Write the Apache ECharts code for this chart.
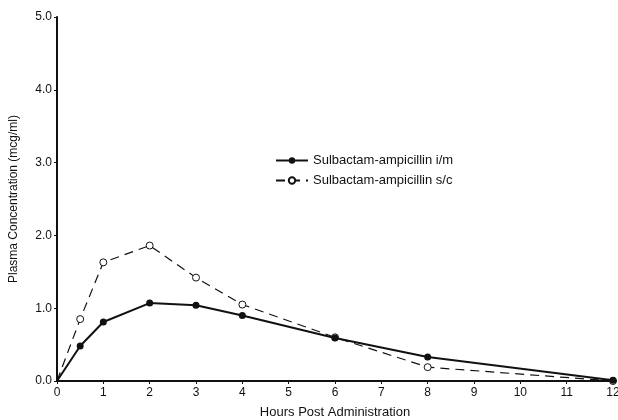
<!DOCTYPE html>
<html>
<head>
<meta charset="utf-8">
<script src="https://cdn.jsdelivr.net/npm/echarts@6/dist/echarts.min.js"></script>
<style>
  html, body { margin: 0; padding: 0; background: #fff; }
  #chart { width: 618px; height: 420px; }
</style>
</head>
<body>
<div id="chart"></div>
<script>
// Plasma concentration after sulbactam-ampicillin, two routes
const hours = [0, 0.5, 1, 2, 3, 4, 6, 8, 12];
const imConc = [0, 0.48, 0.81, 1.07, 1.04, 0.90, 0.59, 0.33, 0.01];
const scConc = [0, 0.85, 1.63, 1.86, 1.42, 1.05, 0.60, 0.19, 0];
const seriesNames = ["Sulbactam-ampicillin i/m", "Sulbactam-ampicillin s/c"];

const FONT = '"Liberation Sans", Arial, sans-serif';
const INK = "#111";

// no marker drawn at the origin in the original figure
const pairs = (xs, ys) =>
  xs.map((x, i) => (x === 0 ? { value: [x, ys[i]], symbol: "none" } : [x, ys[i]]));

const chart = echarts.init(document.getElementById("chart"), null, { renderer: "canvas" });

chart.setOption({
  backgroundColor: "#fff",
  animation: false,
  grid: { left: 57, right: 5, top: 17, bottom: 39, outerBoundsMode: "none" },
  legend: {
    left: 270,
    top: 149,
    orient: "vertical",
    itemGap: 7,
    itemWidth: 32,
    itemHeight: 8,
    textStyle: { color: INK, fontFamily: FONT, fontSize: 13 },
    data: seriesNames,
  },
  xAxis: {
    type: "value",
    min: 0,
    max: 12,
    interval: 1,
    name: "Hours Post Administration",
    nameLocation: "middle",
    nameGap: 25,
    nameTextStyle: { color: INK, fontFamily: FONT, fontSize: 13 },
    axisLine: { lineStyle: { color: INK, width: 2 } },
    axisTick: { show: true, length: 3, lineStyle: { color: INK } },
    axisLabel: { color: INK, fontFamily: FONT, fontSize: 12, margin: 6 },
    splitLine: { show: false },
  },
  yAxis: {
    type: "value",
    min: 0,
    max: 5,
    interval: 1,
    name: "Plasma Concentration (mcg/ml)",
    nameLocation: "middle",
    nameGap: 37,
    nameRotate: 90,
    nameTextStyle: { color: INK, fontFamily: FONT, fontSize: 12 },
    axisLine: { show: true, lineStyle: { color: INK, width: 2 } },
    axisTick: { show: true, length: 3, lineStyle: { color: INK } },
    axisLabel: {
      color: INK, fontFamily: FONT, fontSize: 12, margin: 5,
      formatter: (v) => v.toFixed(1),
    },
    splitLine: { show: false },
  },
  series: [
    {
      name: seriesNames[0],
      type: "line",
      data: pairs(hours, imConc),
      symbol: "circle",
      symbolSize: 7,
      lineStyle: { color: INK, width: 2 },
      itemStyle: { color: INK },
      z: 3,
    },
    {
      name: seriesNames[1],
      type: "line",
      data: pairs(hours, scConc),
      symbol: "circle",
      symbolSize: 7,
      lineStyle: { color: INK, width: 1.2, type: [9, 6] },
      itemStyle: { color: "#fff", borderColor: INK, borderWidth: 1 },
      z: 2,
    },
  ],
});
</script>
</body>
</html>
